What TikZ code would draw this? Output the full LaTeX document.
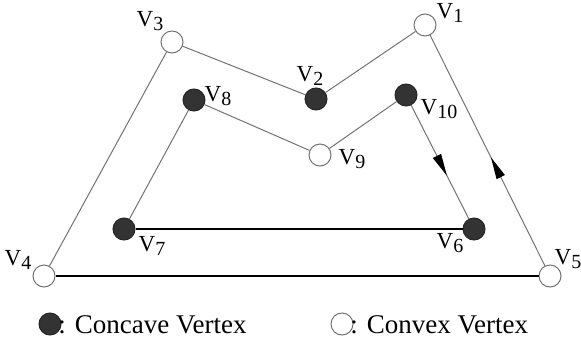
\documentclass[tikz,border=0pt]{standalone}
\usepackage{fontspec}
\setmainfont{Liberation Serif}
\usetikzlibrary{arrows.meta,decorations.markings}
\tikzset{
  convex/.style={circle, draw=black!55, fill=white, line width=0.5pt, minimum size=11pt, inner sep=0pt},
  concave/.style={circle, draw=black!85, fill=black!80, line width=0.5pt, minimum size=11pt, inner sep=0pt},
  vlabel/.style={inner sep=0pt, font=\fontsize{11.5}{12}\selectfont},
  legendtext/.style={anchor=west, inner sep=0pt, font=\fontsize{13.5}{15}\selectfont},
  thinline/.style={draw=black!55, line width=0.5pt},
  thickline/.style={draw=black, line width=1pt},
  midarrow/.style={postaction={decorate}, decoration={markings,
    mark=at position #1 with {\arrow[black]{Triangle[length=11pt,width=4.5pt]}}}}
}
\newcommand{\vname}[1]{V\raisebox{-0.4ex}{\fontsize{10}{10}\selectfont #1}}

\begin{document}
\begin{tikzpicture}[x=0.5pt,y=-0.5pt]
\useasboundingbox (0,0) rectangle (581,342);
% vertices
\node[convex]  (v1)  at (425,25)  {};
\node[concave] (v2)  at (316,99)  {};
\node[convex]  (v3)  at (172,42)  {};
\node[convex]  (v4)  at (44,276)  {};
\node[convex]  (v5)  at (550,276) {};
\node[concave] (v6)  at (474,229) {};
\node[concave] (v7)  at (124,229) {};
\node[concave] (v8)  at (194,100) {};
\node[convex]  (v9)  at (320,155) {};
\node[concave] (v10) at (406,95)  {};
% outer boundary
\draw[thinline] (v1)--(v2);
\draw[thinline] (v2)--(v3);
\draw[thinline] (v3)--(v4);
\draw[thickline] (v4)--(v5);
\draw[thinline, midarrow=0.47] (v5)--(v1);
% inner boundary
\draw[thickline] (v6)--(v7);
\draw[thinline] (v7)--(v8);
\draw[thinline] (v8)--(v9);
\draw[thinline] (v9)--(v10);
\draw[thinline, midarrow=0.62] (v10)--(v6);
% labels
\node[vlabel] (l1)  at (450,13)  {\vname{1}};
\node[vlabel] (l2)  at (310,76)  {\vname{2}};
\node[vlabel] (l3)  at (150,21)  {\vname{3}};
\node[vlabel] (l4)  at (18,260)  {\vname{4}};
\node[vlabel] (l5)  at (568,259) {\vname{5}};
\node[vlabel] (l6)  at (450,243) {\vname{6}};
\node[vlabel] (l7)  at (152,246) {\vname{7}};
\node[vlabel] (l8)  at (218,96)  {\vname{8}};
\node[vlabel] (l9)  at (352,159) {\vname{9}};
\node[vlabel] (l10) at (439,109) {\vname{10}};
% legend
\node[concave] (kcc) at (50,324)  {};
\node[legendtext] (tcc) at (58,325) {: Concave Vertex};
\node[convex]  (kcv) at (342,324) {};
\node[legendtext] (tcv) at (350,325) {: Convex Vertex};
\end{tikzpicture}
\end{document}
